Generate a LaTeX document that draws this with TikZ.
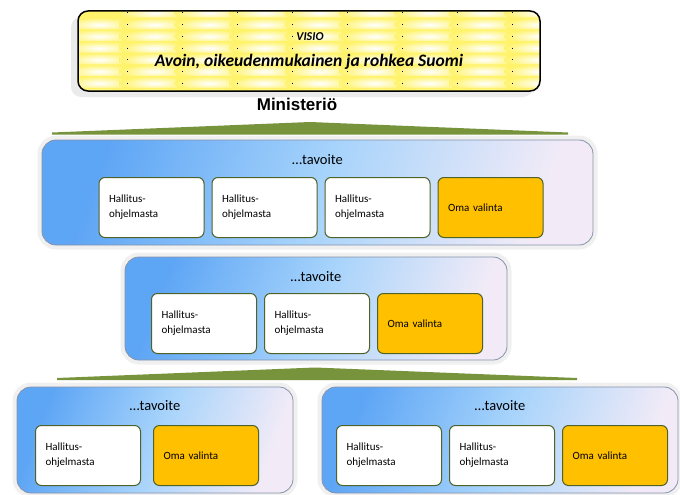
\documentclass[tikz,border=0pt]{standalone}
\usepackage{fontspec}
\setmainfont{Carlito}
\newfontfamily\arialfont{Liberation Sans}
\usetikzlibrary{positioning, shadows}

\definecolor{visioyellow}{HTML}{FFF36B}
\definecolor{tavblue}{HTML}{5DA5F5}
\definecolor{tavlight}{HTML}{A6D3FB}
\definecolor{tavpale}{HTML}{F2EBF7}
\definecolor{tavedge}{HTML}{8593AB}
\definecolor{olive}{HTML}{4F6228}
\definecolor{omaorange}{HTML}{FFC000}
\definecolor{wedgegreen}{HTML}{77933C}

\begin{document}
\begin{tikzpicture}[x=1pt, y=-1pt, node distance=7pt,
    visio/.style={draw, line width=1.5pt, rounded corners=10pt, fill=visioyellow,
      minimum width=462pt, minimum height=80pt,
      drop shadow={shadow xshift=-7pt, shadow yshift=-6pt, fill=black!8, opacity=1},
      path picture={
        \foreach \i in {0,...,8}
          \foreach \j in {0,...,7}
            \shade[inner color=white, outer color=visioyellow]
              (-244.5+55*\i, -45+11.7*\j) rectangle ++(70,14);
        \foreach \k in {0,...,7}
          \draw[line width=0.7pt, dash pattern=on 0.7pt off 11pt] (-182+55*\k, -38.5) -- (-182+55*\k, 41);
      }},
    tavoite/.style={rounded corners=14pt, draw=tavedge, line width=0.8pt,
      left color=tavblue, right color=tavpale, middle color=tavlight, shading angle=70,
      preaction={draw=black!6, line width=9pt}},
    tavtitle/.style={font=\fontsize{14.5}{17}\selectfont},
    ohjelma/.style={draw=olive, line width=1pt, rounded corners=6pt, fill=white,
      minimum width=105pt, minimum height=60pt, text width=85pt, inner xsep=10pt,
      align=left, font=\fontsize{11}{15}\selectfont},
    oma/.style={ohjelma, fill=omaorange},
    wedge/.style={fill=wedgegreen}]

  \useasboundingbox (0,0) rectangle (680,495);

  % visio
  \node[visio] (visio) at (309,51) {};
  \node[font=\fontsize{12}{14}\selectfont\bfseries\itshape] (visiolabel) at (310,37) {VISIO};
  \node[font=\fontsize{17.5}{20}\selectfont\bfseries\itshape] (visiotext) at (309,62) {Avoin, oikeudenmukainen ja rohkea Suomi};
  \node[font=\arialfont\fontsize{17}{20}\selectfont\bfseries] (ministerio) at (297,104) {Ministeriö};

  \fill[wedge] (52,132.5) -- (310,122) -- (568,132.5) -- (568,134.5) -- (52,134.5) -- cycle;
  \fill[wedge] (57,378) -- (315,367.5) -- (577,378) -- (577,380) -- (57,380) -- cycle;

  % ministerio level
  \node[tavoite, minimum width=551pt, minimum height=105pt] (tav1) at (317.5,192.5) {};
  \node[tavtitle] (tit1) at ([yshift=-20pt]tav1.north) {…tavoite};
  \node[ohjelma, anchor=north west] (h11) at (98.5,177) {Hallitus-\\ohjelmasta};
  \node[ohjelma, right=of h11] (h12) {Hallitus-\\ohjelmasta};
  \node[ohjelma, right=of h12] (h13) {Hallitus-\\ohjelmasta};
  \node[oma, right=of h13] (o1) {Oma valinta};

  % second level
  \node[tavoite, minimum width=382pt, minimum height=103pt] (tav2) at (316,308.5) {};
  \node[tavtitle] (tit2) at ([yshift=-20pt]tav2.north) {…tavoite};
  \node[ohjelma, anchor=north west] (h21) at (151,293) {Hallitus-\\ohjelmasta};
  \node[ohjelma, right=of h21] (h22) {Hallitus-\\ohjelmasta};
  \node[oma, right=of h22] (o2) {Oma valinta};

  % third level
  \node[tavoite, minimum width=276pt, minimum height=106pt] (tav3) at (155,440) {};
  \node[tavtitle] (tit3) at ([yshift=-19pt]tav3.north) {…tavoite};
  \node[ohjelma, anchor=north west] (h31) at (35,425) {Hallitus-\\ohjelmasta};
  \node[oma, right=12pt of h31] (o3) {Oma valinta};

  \node[tavoite, minimum width=356pt, minimum height=106pt] (tav4) at (500,440) {};
  \node[tavtitle] (tit4) at ([yshift=-19pt]tav4.north) {…tavoite};
  \node[ohjelma, anchor=north west] (h41) at (336,425) {Hallitus-\\ohjelmasta};
  \node[ohjelma, right=of h41] (h42) {Hallitus-\\ohjelmasta};
  \node[oma, right=of h42] (o4) {Oma valinta};
\end{tikzpicture}
\end{document}
